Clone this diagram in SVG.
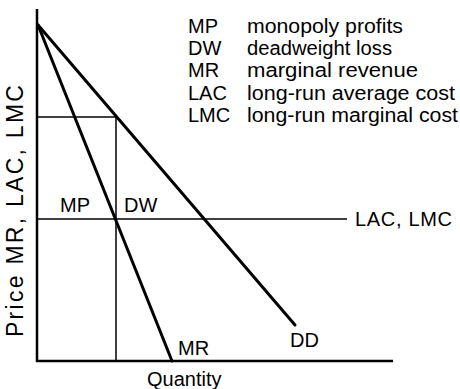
<svg xmlns="http://www.w3.org/2000/svg" width="460" height="389" viewBox="0 0 460 389">
<style>
text{font-family:"Liberation Sans",Arial,sans-serif;font-size:20px;fill:#000}
.thick{stroke:#000;stroke-width:3;fill:none;stroke-linecap:round}
.axis{stroke:#000;stroke-width:2.5;fill:none}
.thin{stroke:#000;stroke-width:1.5;fill:none}
</style>
<rect width="460" height="389" fill="#fff"/>
<g id="connectors">
<line class="axis" x1="37" y1="9" x2="37" y2="362"/>
<line class="axis" x1="36" y1="361" x2="393" y2="361"/>
<line class="thin" x1="37" y1="117" x2="116" y2="117"/>
<line class="thin" x1="116" y1="117" x2="116" y2="361"/>
<line class="thin" x1="37" y1="219" x2="347" y2="219"/>
<line id="dd-line" class="thick" x1="38" y1="25" x2="295" y2="325"/>
<line id="mr-line" class="thick" x1="38" y1="25" x2="172" y2="361"/>
</g>
<g id="legend">
<text x="188" y="33">MP</text>
<text x="247" y="33" textLength="156" lengthAdjust="spacingAndGlyphs">monopoly profits</text>
<text x="188" y="55">DW</text>
<text x="247" y="55" textLength="145" lengthAdjust="spacingAndGlyphs">deadweight loss</text>
<text x="188" y="77">MR</text>
<text x="247" y="77" textLength="171" lengthAdjust="spacingAndGlyphs">marginal revenue</text>
<text x="188" y="100">LAC</text>
<text x="247" y="100" textLength="208" lengthAdjust="spacingAndGlyphs">long-run average cost</text>
<text x="188" y="122">LMC</text>
<text x="247" y="122" textLength="211" lengthAdjust="spacingAndGlyphs">long-run marginal cost</text>
</g>
<g id="label-mp"><text x="60" y="212">MP</text></g>
<g id="label-dw"><text x="124" y="212">DW</text></g>
<g id="label-lac"><text x="355" y="226" textLength="97" lengthAdjust="spacing">LAC, LMC</text></g>
<g id="label-mr"><text x="178" y="355">MR</text></g>
<g id="label-dd"><text x="290" y="347">DD</text></g>
<g id="label-quantity"><text x="147" y="386">Quantity</text></g>
<g id="label-price"><text transform="translate(23,337) rotate(-90)" x="0" y="0" style="font-size:23px" textLength="252" lengthAdjust="spacing">Price MR, LAC, LMC</text></g>
</svg>
